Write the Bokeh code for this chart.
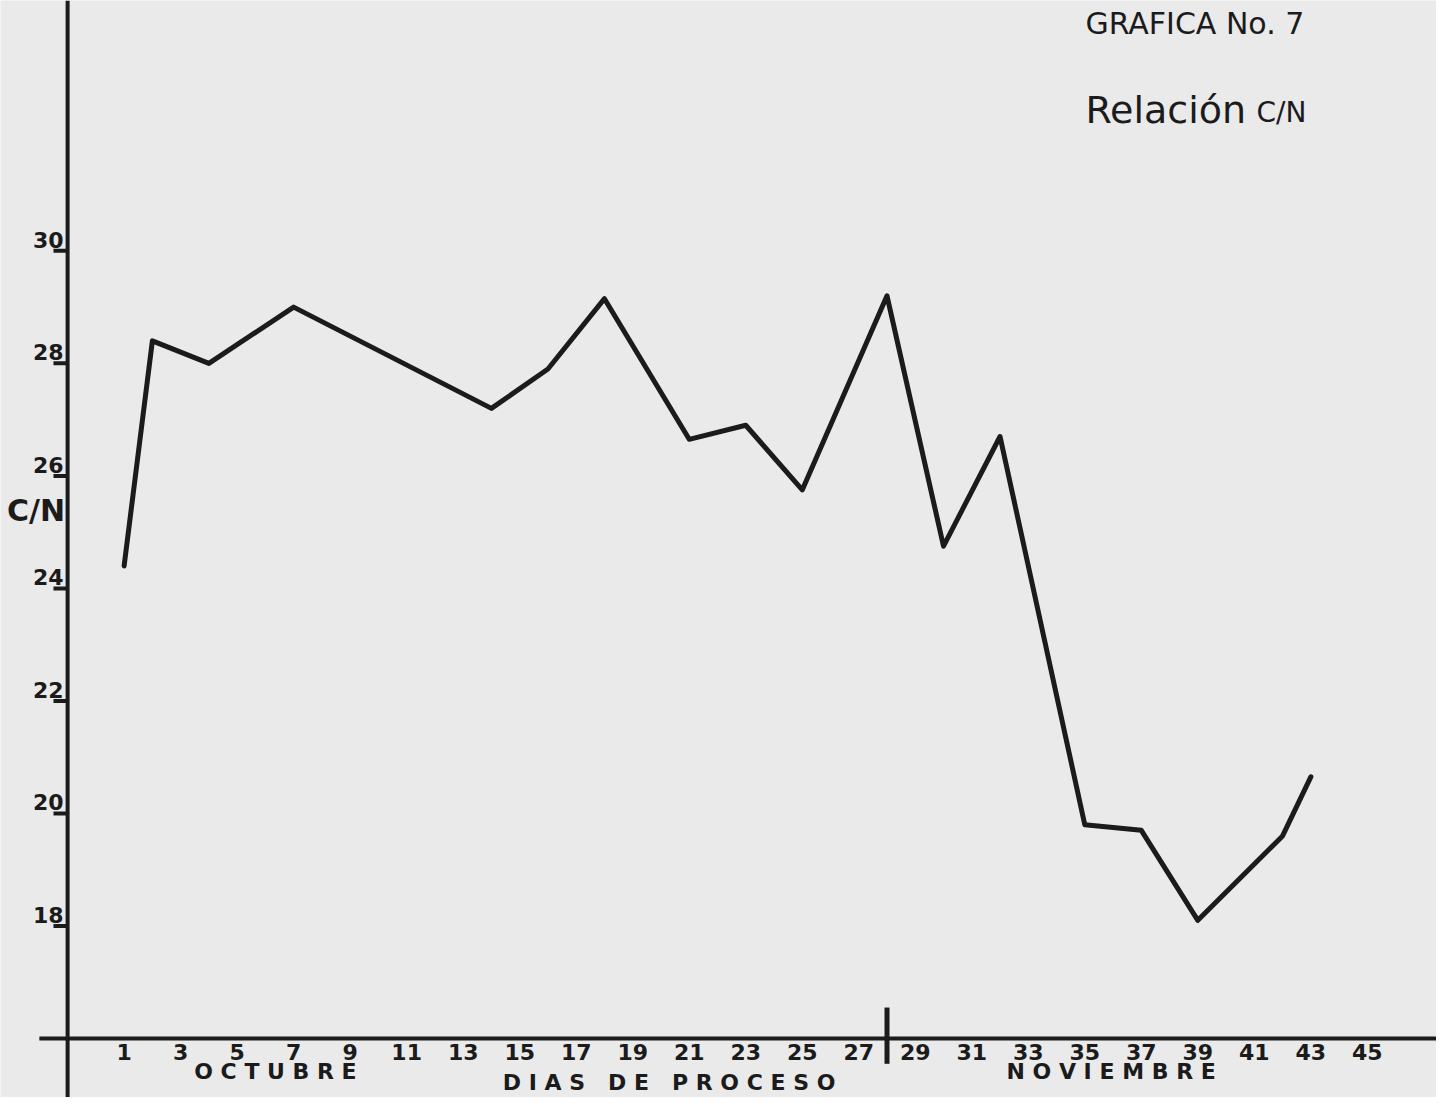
from bokeh.plotting import figure
from bokeh.models import Range1d, Span, Grid
from bokeh.core.properties import value
from bokeh.embed import file_html
from bokeh.resources import INLINE

# ---- data ----
days = [1, 2, 4, 7, 14, 16, 18, 21, 23, 25, 28, 30, 32, 35, 37, 39, 42, 43]
cn_ratio = [24.4, 28.4, 28.0, 29.0, 27.2, 27.9, 29.15, 26.65, 26.9, 25.75,
            29.2, 24.75, 26.7, 19.8, 19.7, 18.1, 19.6, 20.65]
x_tick_days = list(range(1, 46, 2))
x_tick_labels = [str(d) for d in x_tick_days]
y_tick_values = [18, 20, 22, 24, 26, 28, 30]
y_tick_labels = [str(v) for v in y_tick_values]
month_split_day = 28
x_axis_cn = 16
y_axis_day = -1

# ---- layout / style ----
W, H = 1436, 1097
SX, SY = W / 1452, H / 1113          # figure px per reference px
PX_PER_DAY = 28.57 * SX
PX_PER_UNIT = 57.08 * SY
BG = "#eaeaea"
INK = "#1b1b1b"
FONT = "DejaVu Sans"
NB = "\u00a0"

x_start = 1 - (125 * SX) / PX_PER_DAY
x_end = x_start + W / PX_PER_DAY
y_end = 30 + (254 * SY) / PX_PER_UNIT
y_start = y_end - H / PX_PER_UNIT


def at(px, py):
    """reference-pixel position -> data position (for annotation text)"""
    return x_start + px * SX / PX_PER_DAY, y_end - py * SY / PX_PER_UNIT


p = figure(width=W, height=H,
           x_range=Range1d(x_start, x_end), y_range=Range1d(y_start, y_end),
           x_axis_location=None, y_axis_location=None,
           toolbar_location=None, output_backend="svg",
           min_border=0, min_border_left=0, min_border_right=0,
           min_border_top=0, min_border_bottom=0,
           background_fill_color=BG, border_fill_color=BG,
           outline_line_color=None)
for g in p.select(type=Grid):
    g.visible = False

# axes drawn by hand, like the original sheet
p.add_layout(Span(location=y_axis_day, dimension="height",
                  line_color=INK, line_width=4))
p.segment(x0=[y_axis_day - 1], y0=[x_axis_cn], x1=[x_end + 1], y1=[x_axis_cn],
          line_color=INK, line_width=4)

# y ticks + labels (labels sit just above their tick marks)
n = len(y_tick_values)
p.segment(x0=[y_axis_day - 0.5] * n, y0=y_tick_values,
          x1=[y_axis_day] * n, y1=y_tick_values,
          line_color=INK, line_width=4)
p.text(x=[y_axis_day] * n, y=y_tick_values, text=y_tick_labels,
       text_align="right", text_baseline="bottom",
       x_offset=-4, y_offset=-3,
       text_font=value(FONT), text_font_size="22px", text_font_style="bold",
       text_color=INK)

# x tick labels
m = len(x_tick_days)
p.text(x=x_tick_days, y=[x_axis_cn] * m, text=x_tick_labels,
       text_align="center", text_baseline="top", y_offset=6,
       text_font=value(FONT), text_font_size="22px", text_font_style="bold",
       text_color=INK)

# month divider
p.segment(x0=[month_split_day], y0=[x_axis_cn + 0.55],
          x1=[month_split_day], y1=[x_axis_cn - 0.45],
          line_color=INK, line_width=5)

# data line
p.line(days, cn_ratio, line_color=INK, line_width=5,
       line_join="round", line_cap="round")


def label(txt, px, py, size, align="left", baseline="alphabetic", style="normal"):
    x, y = at(px, py)
    p.text(x=[x], y=[y], text=[txt], text_align=align, text_baseline=baseline,
           text_font=value(FONT), text_font_size=size, text_font_style=style,
           text_color=INK)


label("GRAFICA No. 7", 1097, 6, "30px", baseline="top")
label("Relación", 1097, 111, "38px")
label("C/N", 1270, 114, "28px")
label("C/N", 36, 517, "30px", align="center", baseline="middle", style="bold")
label("O C T U B R E", 278, 1087, "22px", align="center", baseline="middle", style="bold")
label("N O V I E M B R E", 1123, 1087, "22px", align="center", baseline="middle", style="bold")
label("D I A S" + NB * 3 + "D E" + NB * 3 + "P R O C E S O", 676, 1098, "22px",
      align="center", baseline="middle", style="bold")

open("out.html", "w").write(file_html(p, INLINE))
